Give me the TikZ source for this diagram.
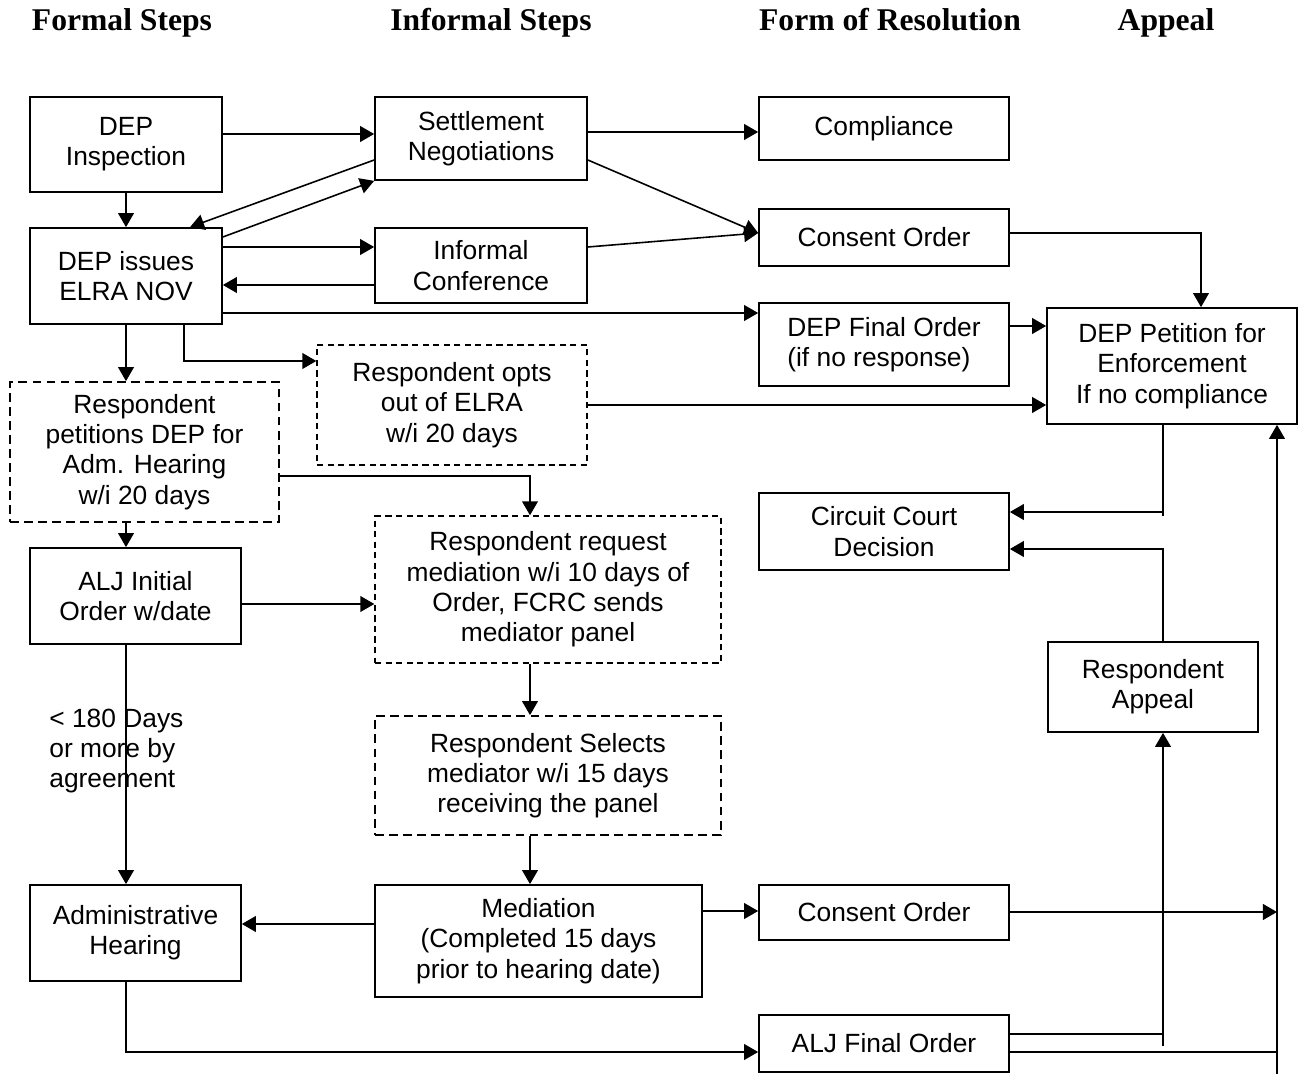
\documentclass[tikz,border=0pt]{standalone}
\usepackage{fontspec}
\setmainfont{Liberation Sans}
\newfontfamily\headfont{Liberation Serif}
\usetikzlibrary{arrows.meta}
\usetikzlibrary{positioning}

\begin{document}
\begin{tikzpicture}[x=0.02cm, y=-0.02cm,
    box/.style={draw, line width=1pt, align=center, inner sep=0pt,
      font=\fontsize{15}{17.25}\selectfont},
    dbox/.style={box, dash pattern=on 5pt off 3pt},
    fbox/.style={box, line width=0.8pt, dash pattern=on 3.5pt off 2.5pt},
    head/.style={anchor=base, font=\headfont\bfseries\fontsize{18}{21}\selectfont},
    note/.style={align=left, inner sep=0pt, font=\fontsize{15}{17.25}\selectfont},
    arr/.style={line width=0.9pt, -{Triangle[length=8pt, width=9pt]}},
    ln/.style={line width=0.9pt}]
    \useasboundingbox (0,0) rectangle (1299,1074);

    % column headings
    \node[head] (hformal) at (122,31) {Formal Steps};
    \node[head] (hinformal) at (491,31) {Informal Steps};
    \node[head] (hform) at (890,31) {Form of Resolution};
    \node[head] (happeal) at (1166,31) {Appeal};

    % formal steps
    \node[box, minimum width=3.84cm, minimum height=1.9cm] (insp) at (126,144.5) {DEP\\Inspection};
    \node[box, minimum width=3.84cm, minimum height=1.92cm] (nov) at (126,276) {DEP issues\\ELRA NOV};
    \node[dbox, minimum width=5.38cm, minimum height=2.8cm] (petit) at (144.5,452) {Respondent\\petitions DEP for\\Adm. Hearing\\w/i 20 days};
    \node[box, minimum width=4.22cm, minimum height=1.92cm] (aljinit) at (135.5,596) {ALJ Initial\\Order w/date};
    \node[box, minimum width=4.22cm, minimum height=1.92cm] (admin) at (135.5,933) {Administrative\\Hearing};
    \node[note, anchor=west] (days) at (49,751) {< 180 Days\\or more by\\agreement};

    % informal steps
    \node[box, minimum width=4.24cm, minimum height=1.66cm] (settle) at (481,138.5) {Settlement\\Negotiations};
    \node[box, minimum width=4.24cm, minimum height=1.5cm] (infconf) at (481,265.5) {Informal\\Conference};
    \node[fbox, minimum width=5.4cm, minimum height=2.4cm] (optout) at (452,405) {Respondent opts\\out of ELRA\\w/i 20 days};
    \node[fbox, minimum width=6.92cm, minimum height=2.94cm] (reqmed) at (548,589.5) {Respondent request\\mediation w/i 10 days of\\Order, FCRC sends\\mediator panel};
    \node[dbox, minimum width=6.92cm, minimum height=2.38cm] (select) at (548,775.5) {Respondent Selects\\mediator w/i 15 days\\receiving the panel};
    \node[box, minimum width=6.54cm, minimum height=2.24cm] (mediat) at (538.5,941) {Mediation\\(Completed 15 days\\prior to hearing date)};

    % form of resolution
    \node[box, minimum width=5cm, minimum height=1.26cm] (compl) at (884,128.5) {Compliance};
    \node[box, minimum width=5cm, minimum height=1.14cm] (consent) at (884,237.5) {Consent Order};
    \node[box, align=left, minimum width=5cm, minimum height=1.66cm] (final) at (884,344.5) {DEP Final Order\\(if no response)};
    \node[box, minimum width=5cm, minimum height=1.54cm] (circuit) at (884,531.5) {Circuit Court\\Decision};
    \node[box, minimum width=5cm, minimum height=1.1cm] (consentb) at (884,912.5) {Consent Order};
    \node[box, minimum width=5cm, minimum height=1.14cm] (aljfinal) at (884,1043.5) {ALJ Final Order};

    % appeal
    \node[box, minimum width=5cm, minimum height=2.32cm] (petition) at (1172,366) {DEP Petition for\\Enforcement\\If no compliance};
    \node[box, minimum width=4.2cm, minimum height=1.8cm] (appeal) at (1153,687) {Respondent\\Appeal};

    % top part
    \draw[arr] (insp.east |- 0,134) -- (settle.west |- 0,134);
    \draw[arr] (settle.east |- 0,132) -- (compl.west |- 0,132);
    \draw[arr] (insp.south) -- (nov.north);
    \draw[arr] (settle.west |- 0,160) -- (nov.north -| 190,0);
    \draw[arr] (nov.east |- 0,237) -- (settle.south west);
    \draw[arr] (nov.east |- 0,247) -- (infconf.west |- 0,247);
    \draw[arr] (infconf.west |- 0,285) -- (nov.east |- 0,285);
    \draw[arr] (settle.east |- 0,160) -- (consent.west |- 0,233);
    \draw[arr] (infconf.east |- 0,247) -- (consent.west |- 0,233);
    \draw[arr] (consent.east |- 0,233) -| (petition.north -| 1201,0);
    \draw[arr] (nov.east |- 0,313) -- (final.west |- 0,313);
    \draw[arr] (final.east |- 0,326) -- (petition.west |- 0,326);
    \draw[arr] (optout.east |- 0,405) -- (petition.west |- 0,405);

    % respondent options
    \draw[arr] (nov.south) -- (petit.north -| nov.south);
    \draw[arr] (nov.south -| 184,0) |- (optout.west |- 0,361);
    \draw[arr] (petit.east |- 0,476) -| (reqmed.north -| 530,0);
    \draw[arr] (petit.south -| 126,0) -- (aljinit.north -| 126,0);
    \draw[arr] (aljinit.east |- 0,604) -- (reqmed.west |- 0,604);
    \draw[arr] (aljinit.south -| 126,0) -- (admin.north -| 126,0);
    \draw[arr] (reqmed.south -| 530,0) -- (select.north -| 530,0);
    \draw[arr] (select.south -| 530,0) -- (mediat.north -| 530,0);
    \draw[arr] (mediat.west |- 0,924) -- (admin.east |- 0,924);
    \draw[arr] (mediat.east |- 0,911) -- (consentb.west |- 0,911);
    \draw[arr] (admin.south -| 126,0) |- (aljfinal.west |- 0,1052);

    % appeal side
    \coordinate (rbot) at (1277,1074);
    \coordinate (abot) at (1163,1046);
    \draw[arr] (rbot) -- (petition.south -| rbot);
    \draw[arr] (consentb.east |- 0,912) -- (rbot |- 0,912);
    \draw[ln] (aljfinal.east |- 0,1052) -- (rbot |- 0,1052);
    \draw[ln] (aljfinal.east |- 0,1034) -- (abot |- 0,1034);
    \draw[arr] (abot) -- (appeal.south -| abot);
    \draw[arr] (appeal.north -| abot) |- (circuit.east |- 0,549);
    \draw[ln] (petition.south -| abot) -- (abot |- 0,516);
    \draw[arr] (abot |- 0,512) -- (circuit.east |- 0,512);

  \end{tikzpicture}
\end{document}
